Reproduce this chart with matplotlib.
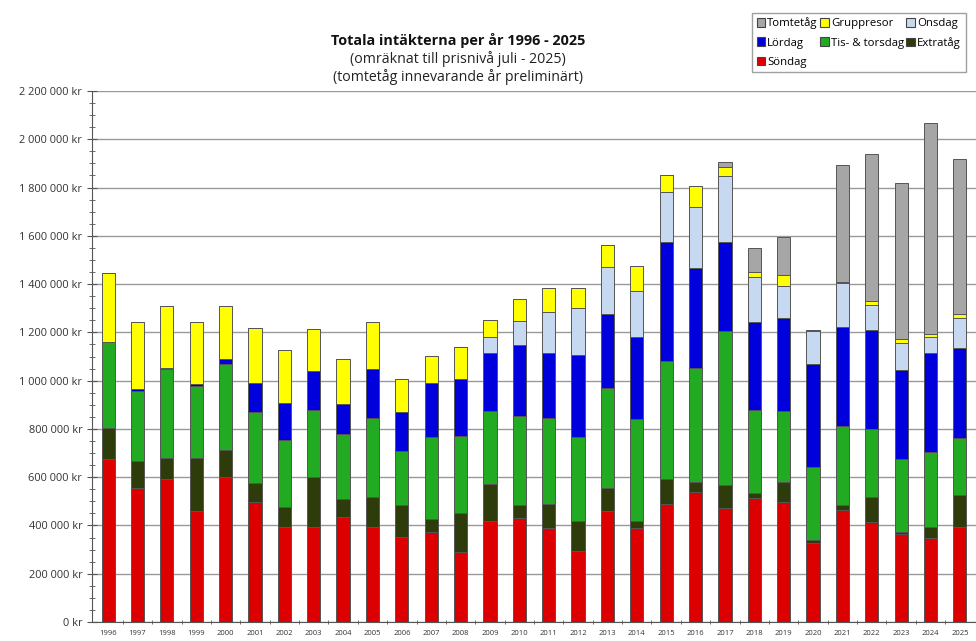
import numpy as np
import matplotlib
matplotlib.use("Agg")
import matplotlib.pyplot as plt
from matplotlib.ticker import FuncFormatter, MultipleLocator
from matplotlib.patches import Patch

plt.rcParams["font.family"] = ["Open Sans", "DejaVu Sans"]

years = list(range(1996, 2026))

# values in 1000 kr (bottom to top of each stack)
sondag = [674, 556, 591, 461, 602, 498, 395, 395, 434, 392,
          353, 374, 291, 420, 432, 388, 294, 461, 388, 487,
          540, 471, 512, 498, 328, 464, 415, 363, 349, 395]
extratag = [128, 112, 90, 220, 111, 77, 83, 207, 74, 127,
            132, 54, 162, 152, 53, 101, 124, 95, 30, 105,
            41, 97, 24, 83, 12, 21, 102, 11, 46, 131]
tis_tors = [359, 290, 366, 297, 356, 296, 276, 276, 271, 325,
            223, 340, 319, 302, 368, 355, 347, 415, 422, 491,
            470, 637, 342, 293, 303, 327, 281, 301, 308, 235]
lordag = [0, 6, 6, 6, 22, 120, 152, 163, 124, 203,
          163, 223, 233, 239, 294, 269, 341, 304, 339, 490,
          417, 370, 366, 384, 426, 411, 412, 369, 410, 375]
onsdag = [0, 0, 0, 0, 0, 0, 0, 0, 0, 0,
          0, 0, 0, 66, 101, 172, 193, 196, 192, 210,
          252, 274, 186, 134, 138, 180, 103, 111, 69, 122]
gruppresor = [286, 277, 257, 257, 219, 226, 221, 173, 185, 194,
              134, 112, 136, 72, 89, 97, 83, 91, 104, 69,
              88, 37, 21, 45, 3, 7, 15, 16, 11, 17]
tomtetag = [0, 0, 0, 0, 0, 0, 0, 0, 0, 0,
            0, 0, 0, 0, 0, 0, 0, 0, 0, 0,
            0, 18, 97, 159, 0, 483, 611, 649, 873, 643]

series = [
    ("Söndag", sondag, "#dd0000"),
    ("Extratåg", extratag, "#2e3b0b"),
    ("Tis- & torsdag", tis_tors, "#22aa22"),
    ("Lördag", lordag, "#0000dd"),
    ("Onsdag", onsdag, "#c6d9f1"),
    ("Gruppresor", gruppresor, "#ffff00"),
    ("Tomtetåg", tomtetag, "#a6a6a6"),
]

fig = plt.figure(figsize=(9.76, 6.41), dpi=100)
ax = fig.add_axes([92 / 976, 1 - 622 / 641, 884 / 976, 531 / 641])

x = np.arange(len(years))
bottom = np.zeros(len(years))
for name, vals, col in series:
    v = np.array(vals) * 1000.0
    ax.bar(x, v, 0.45, bottom=bottom, color=col, edgecolor="#555555",
           linewidth=0.7, label=name, zorder=3)
    bottom += v

ax.set_xlim(-0.55, len(years) - 0.45)
ax.set_ylim(0, 2200000)
ax.yaxis.set_major_locator(MultipleLocator(200000))
ax.yaxis.set_minor_locator(MultipleLocator(50000))
ax.yaxis.set_major_formatter(FuncFormatter(lambda v, p: f"{int(v):,} kr".replace(",", " ")))
ax.grid(axis="y", color="#999999", linewidth=1.0, zorder=0)
ax.set_axisbelow(True)

ax.set_xticks(x)
ax.set_xticklabels([str(y) for y in years], fontsize=5.5, color="#333333")
ax.set_xticks(x[:-1] + 0.5, minor=True)
ax.tick_params(axis="x", which="major", length=0, pad=6)
ax.tick_params(axis="x", which="minor", length=3, direction="inout", color="#555555")
ax.tick_params(axis="y", which="major", length=7, direction="inout", labelsize=7.9,
               labelcolor="#333333", color="#555555")
ax.tick_params(axis="y", which="minor", length=5, direction="inout", color="#555555")

for s in ["top", "right"]:
    ax.spines[s].set_visible(False)
ax.spines["left"].set_color("#555555")
ax.spines["bottom"].set_color("#555555")

fig.text(458 / 976, 1 - 41 / 641, "Totala intäkterna per år 1996 - 2025", ha="center",
         va="center", fontsize=10.4, fontweight="bold", color="#111111")
fig.text(458 / 976, 1 - 59 / 641, "(omräknat till prisnivå juli - 2025)", ha="center",
         va="center", fontsize=10.2, color="#222222")
fig.text(458 / 976, 1 - 77 / 641, "(tomtetåg innevarande år preliminärt)", ha="center",
         va="center", fontsize=10.2, color="#222222")

cols = {n: c for n, _, c in series}
order = ["Tomtetåg", "Lördag", "Söndag", "Gruppresor", "Tis- & torsdag", "Onsdag", "Extratåg"]
handles = [Patch(facecolor=cols[n], edgecolor="#444444", linewidth=0.8) for n in order]
leg = fig.legend(handles, order, loc="upper left", bbox_to_anchor=(752 / 976, 1 - 13 / 641),
                 ncol=3, fontsize=8.2, frameon=True, fancybox=False, edgecolor="#888888",
                 handlelength=0.75, handleheight=0.75, handletextpad=0.2, columnspacing=0.2,
                 labelspacing=0.7, borderpad=0.4, borderaxespad=0)
leg.get_frame().set_linewidth(1.0)

fig.savefig("out.png", dpi=100)
